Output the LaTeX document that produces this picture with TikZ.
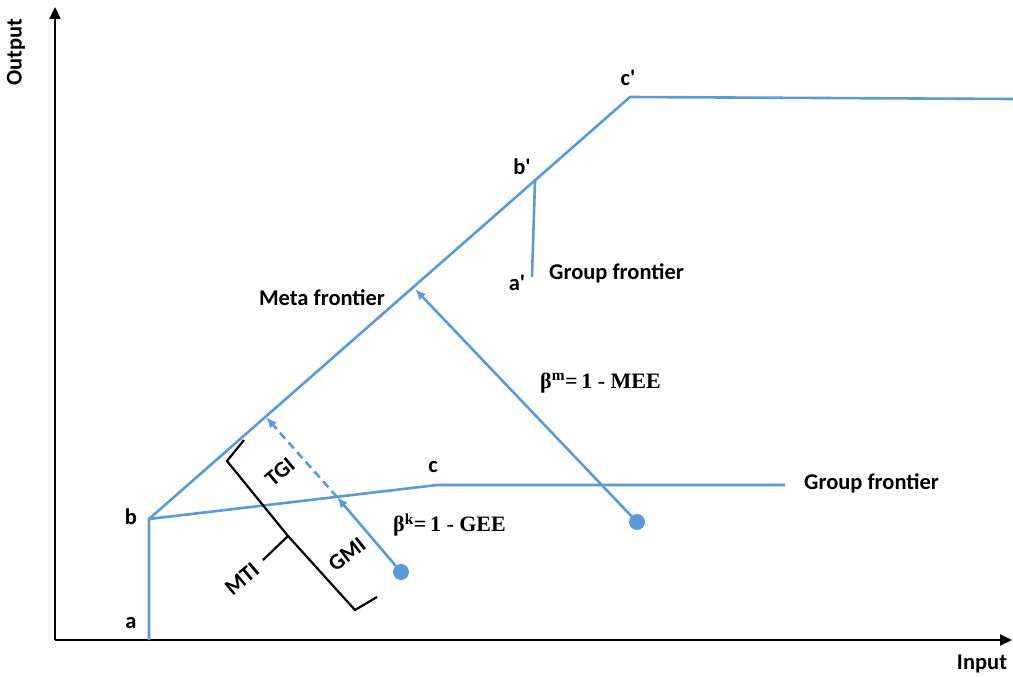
\documentclass[tikz,border=0pt]{standalone}
\usepackage{fontspec}
\setmainfont{Carlito}
\newfontfamily\formfont{Liberation Serif}
\usetikzlibrary{arrows.meta}
\definecolor{frontierblue}{RGB}{91,155,213}
\newcommand{\pr}{\textquotesingle}
\begin{document}
\begin{tikzpicture}[x=1pt,y=-1pt,
  axis/.style={line width=2pt, black, -{Triangle[length=12pt,width=11pt]}},
  frontier/.style={line width=2.6pt, frontierblue, line join=miter},
  gap/.style={line width=2.6pt, frontierblue, -{Latex[length=11pt,width=9pt]}},
  lbl/.style={font=\fontsize{22.5}{26}\selectfont\bfseries, inner sep=0pt},
  formula/.style={font=\formfont\fontsize{22}{26}\selectfont\bfseries, inner sep=0pt},
  brace/.style={line width=2.2pt, black, line join=miter},
  obs/.style={circle, fill=frontierblue, minimum size=16pt, inner sep=0pt}]
\useasboundingbox (0,0) rectangle (1013,677);

% axes
\coordinate (O) at (55,640);
\coordinate (xend) at (1012,640);
\coordinate (yend) at (55,7);
\draw[axis] (O) -- (xend);
\draw[axis] (O) -- (yend);
\node[lbl, rotate=90] (ylab) at (16,52) {Output};
\node[lbl] (xlab) at (982,664) {Input};

% frontier corner points
\coordinate (a) at (149,640);
\coordinate (b) at (149,519);
\coordinate (c) at (437,485);
\coordinate (cend) at (785,485);
\coordinate (cp) at (630,97);
\coordinate (cpend) at (1013,99);
\coordinate (bp) at (535,181);
\coordinate (ap) at (532,277);

% group frontier a-b-c and the meta frontier b-c'
\draw[frontier] (a) -- (b) -- (c) -- (cend);
\draw[frontier] (b) -- (cp) -- (cpend);
\draw[frontier] (bp) -- (ap);

% point labels
\node[lbl] (la) at (131,623) {a};
\node[lbl] (lb) at (131,517) {b};
\node[lbl] (lc) at (433,467) {c};
\node[lbl] (lap) at (517,283) {a\pr};
\node[lbl] (lbp) at (522,167) {b\pr};
\node[lbl] (lcp) at (628,78) {c\pr};
\node[lbl, anchor=west] (gf1) at (549,273) {Group frontier};
\node[lbl, anchor=west] (gf2) at (804,483) {Group frontier};
\node[lbl] (mf) at (322,298) {Meta frontier};

% observations and their distances to the frontiers
\node[obs] (d1) at (637,522) {};
\node[obs] (d2) at (401,572) {};
\coordinate (t1) at (415,289);
\coordinate (t2) at (337,497);
\coordinate (t3) at (266,417);
\draw[gap] (d1) -- (t1);
\draw[gap] (d2) -- (t2);
\draw[gap, dash pattern=on 8pt off 5pt] (t2) -- (t3);

\node[formula, anchor=west] (fm) at (540,383) {β\textsuperscript{m}=\,1 - MEE};
\node[formula, anchor=west] (fk) at (393,525) {β\textsuperscript{k}=\,1 - GEE};

% brackets for the gap decomposition
\coordinate (u0) at (244,440);
\coordinate (u1) at (227,461);
\coordinate (m) at (288,536);
\coordinate (l1) at (355,610);
\coordinate (l0) at (377,597);
\coordinate (mt) at (263,560);
\draw[brace] (u0) -- (u1) -- (m) -- (l1) -- (l0);
\draw[brace] (m) -- (mt);
\node[lbl, rotate=40] (tgi) at (280,472) {TGI};
\node[lbl, rotate=38] (gmi) at (347,554) {GMI};
\node[lbl, rotate=40] (mti) at (242,579) {MTI};
\end{tikzpicture}
\end{document}
